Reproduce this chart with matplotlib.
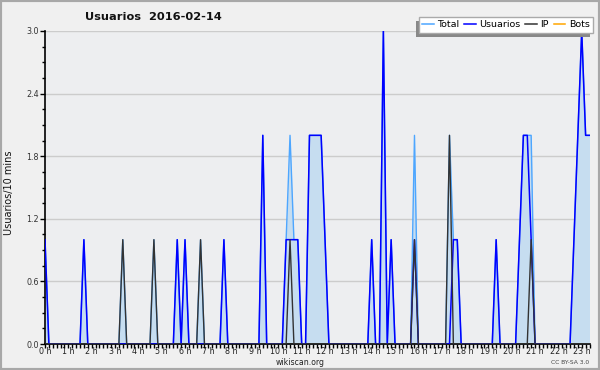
import matplotlib
matplotlib.use("Agg")
import matplotlib.pyplot as plt
from matplotlib.lines import Line2D
from matplotlib.patches import Rectangle
from matplotlib.ticker import FixedLocator, MultipleLocator
import numpy as np

plt.rcParams['font.family'] = ['DejaVu Sans']

title = "Usuarios  2016-02-14"
ylabel = "Usuarios/10 mins"
series_names = ["Total", "Usuarios", "IP", "Bots"]
hour_labels = [f"{h} h" for h in range(24)]
y_ticks = [0.0, 0.6, 1.2, 1.8, 2.4, 3.0]

# ten-minute slots, one row per hour (data ends at 23:20)
total = [
    1, 0, 0, 0, 0, 0,
    0, 0, 0, 0, 1, 0,
    0, 0, 0, 0, 0, 0,
    0, 0, 1, 0, 0, 0,
    0, 0, 0, 0, 1, 0,
    0, 0, 0, 0, 1, 0,
    1, 0, 0, 0, 1, 0,
    0, 0, 0, 0, 1, 0,
    0, 0, 0, 0, 0, 0,
    0, 0, 2, 0, 0, 0,
    0, 0, 1, 2, 1, 1,
    0, 0, 2, 2, 2, 2,
    1, 0, 0, 0, 0, 0,
    0, 0, 0, 0, 0, 0,
    1, 0, 0, 3, 0, 1,
    0, 0, 0, 0, 0, 2,
    0, 0, 0, 0, 0, 0,
    0, 0, 2, 1, 1, 0,
    0, 0, 0, 0, 0, 0,
    0, 0, 1, 0, 0, 0,
    0, 0, 1, 2, 2, 2,
    0, 0, 0, 0, 0, 0,
    0, 0, 0, 0, 1, 2,
    3, 2, 2,
]
usuarios = [
    1, 0, 0, 0, 0, 0,
    0, 0, 0, 0, 1, 0,
    0, 0, 0, 0, 0, 0,
    0, 0, 0, 0, 0, 0,
    0, 0, 0, 0, 0, 0,
    0, 0, 0, 0, 1, 0,
    1, 0, 0, 0, 0, 0,
    0, 0, 0, 0, 1, 0,
    0, 0, 0, 0, 0, 0,
    0, 0, 2, 0, 0, 0,
    0, 0, 1, 1, 1, 1,
    0, 0, 2, 2, 2, 2,
    1, 0, 0, 0, 0, 0,
    0, 0, 0, 0, 0, 0,
    1, 0, 0, 3, 0, 1,
    0, 0, 0, 0, 0, 1,
    0, 0, 0, 0, 0, 0,
    0, 0, 0, 1, 1, 0,
    0, 0, 0, 0, 0, 0,
    0, 0, 1, 0, 0, 0,
    0, 0, 1, 2, 2, 1,
    0, 0, 0, 0, 0, 0,
    0, 0, 0, 0, 1, 2,
    3, 2, 2,
]
ip = [
    0, 0, 0, 0, 0, 0,
    0, 0, 0, 0, 0, 0,
    0, 0, 0, 0, 0, 0,
    0, 0, 1, 0, 0, 0,
    0, 0, 0, 0, 1, 0,
    0, 0, 0, 0, 0, 0,
    0, 0, 0, 0, 1, 0,
    0, 0, 0, 0, 0, 0,
    0, 0, 0, 0, 0, 0,
    0, 0, 0, 0, 0, 0,
    0, 0, 0, 1, 0, 0,
    0, 0, 0, 0, 0, 0,
    0, 0, 0, 0, 0, 0,
    0, 0, 0, 0, 0, 0,
    0, 0, 0, 0, 0, 0,
    0, 0, 0, 0, 0, 1,
    0, 0, 0, 0, 0, 0,
    0, 0, 2, 0, 0, 0,
    0, 0, 0, 0, 0, 0,
    0, 0, 0, 0, 0, 0,
    0, 0, 0, 0, 0, 1,
    0, 0, 0, 0, 0, 0,
    0, 0, 0, 0, 0, 0,
    0, 0, 0,
]
bots = [0] * len(total)

colors = {"Total": "#4da6ff", "Usuarios": "#0000ff", "IP": "#333333", "Bots": "#ffa500"}
fill_color = "#c6ddf0"

W, H = 600, 370
fig = plt.figure(figsize=(6, 3.7), dpi=100, facecolor="#f0f0f0")
ax = fig.add_axes([45 / W, 1 - 344 / H, (589.5 - 45) / W, (344 - 31) / H])
ax.set_facecolor("#edeef0")

x = np.arange(len(total))
ax.fill_between(x, total, 0, color=fill_color, lw=0, zorder=1)
ax.plot(x, bots, color=colors["Bots"], lw=1, zorder=1.5)
ax.plot(x, total, color=colors["Total"], lw=1, zorder=2)
ax.plot(x, usuarios, color=colors["Usuarios"], lw=1.1, zorder=3)
ax.plot(x, ip, color=colors["IP"], lw=1, zorder=4)

ax.set_xlim(x[0], x[-1])
ax.set_ylim(0, 3)

ax.yaxis.set_major_locator(FixedLocator(y_ticks))
ax.yaxis.set_minor_locator(MultipleLocator(0.15))
ax.set_yticklabels([f"{v:.1f}" for v in y_ticks])
ax.grid(axis="y", which="major", color="#cccccc", lw=1)
ax.set_axisbelow(True)

hour_pos = [h * 6 for h in range(len(hour_labels))]
ax.xaxis.set_major_locator(FixedLocator(hour_pos))
ax.xaxis.set_minor_locator(FixedLocator(list(x)))
ax.set_xticklabels(hour_labels)

ax.tick_params(axis="x", which="both", direction="out", length=3, width=1, color="black")
ax.tick_params(axis="x", which="major", labelsize=5.8, pad=-0.5, labelcolor="#222222")
ax.tick_params(axis="y", which="major", direction="out", length=3.5, width=1, labelsize=5.8, pad=1, labelcolor="#333333")
ax.tick_params(axis="y", which="minor", direction="out", length=2, width=1)

for s in ["top", "right"]:
    ax.spines[s].set_visible(False)
for s in ["left", "bottom"]:
    ax.spines[s].set_color("black")
    ax.spines[s].set_linewidth(1.2)

fig.text(85 / W, 1 - 17 / H, title, fontsize=8.2, fontweight="bold", ha="left", va="center", color="#111111")
fig.text(9 / W, 1 - 193 / H, ylabel, fontsize=7, rotation=90, ha="center", va="center", color="#111111")
fig.text(300 / W, 1 - 362.5 / H, "wikiscan.org", fontsize=5.6, ha="center", va="center", color="#222222")
fig.text(589 / W, 1 - 362.5 / H, "CC BY-SA 3.0", fontsize=4.3, ha="right", va="center", color="#444444")

handles = [Line2D([0], [0], color=colors[n], lw=1.1) for n in series_names]
leg = fig.legend(handles, series_names, loc="upper right", bbox_to_anchor=(593 / W, 1 - 17 / H),
                 ncol=4, fontsize=6.8, frameon=True, fancybox=False, borderpad=0.35,
                 handlelength=1.2, handletextpad=0.4, columnspacing=0.5, borderaxespad=0)
leg.get_frame().set_edgecolor("#aaaaaa")
leg.get_frame().set_facecolor("white")
leg.get_frame().set_alpha(1)
leg.set_zorder(10)

fig.canvas.draw()
bb = leg.get_window_extent()
shadow = Rectangle(((bb.x0 - 3) / W, (bb.y0 - 4) / H), bb.width / W, bb.height / H,
                   transform=fig.transFigure, facecolor="#888888", edgecolor="none", zorder=9)
fig.add_artist(shadow)

border = Rectangle((0, 0), 1, 1, transform=fig.transFigure, fill=False, edgecolor="#a8a8a8", lw=3, zorder=20)
fig.add_artist(border)

fig.savefig("out.png", dpi=100, facecolor=fig.get_facecolor())
